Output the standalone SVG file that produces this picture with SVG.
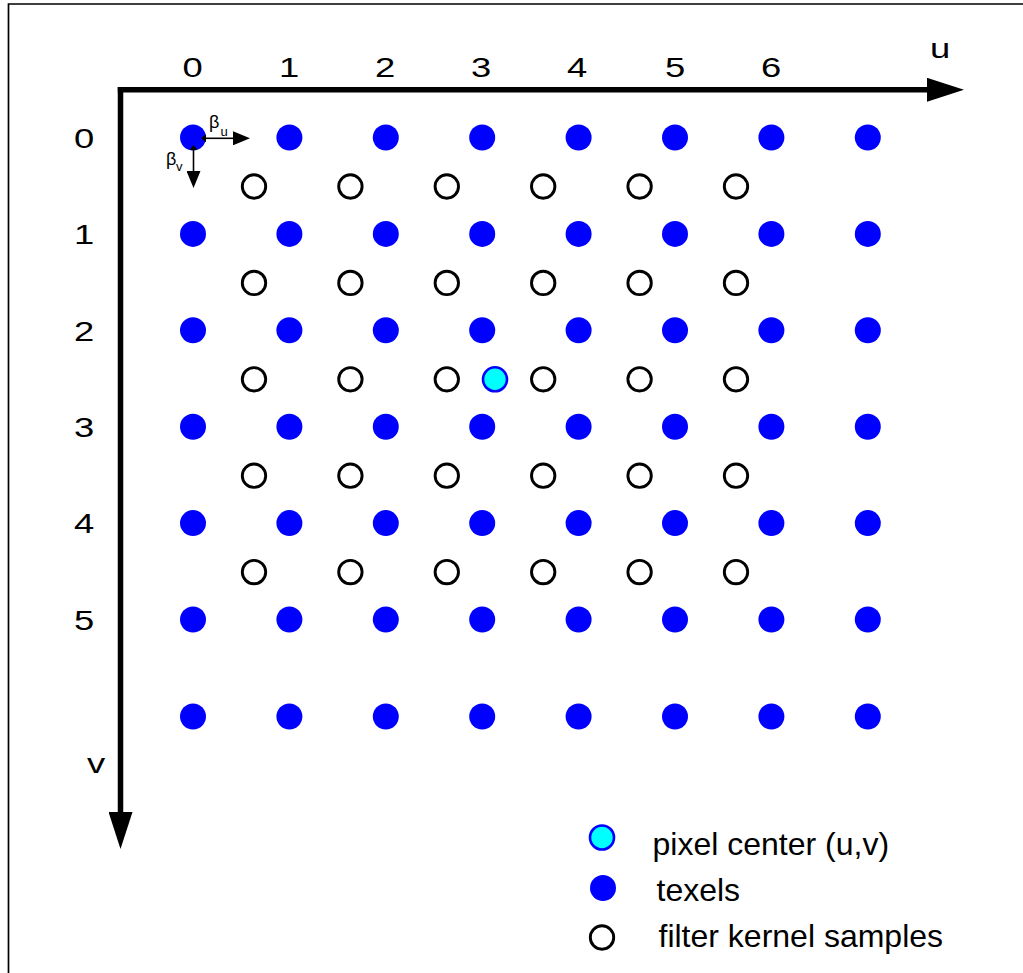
<svg xmlns="http://www.w3.org/2000/svg" width="1023" height="973" viewBox="0 0 1023 973">
<style>
.tx{fill:#0000FF;}
.ks{fill:#FFFFFF;stroke:#000000;stroke-width:2.9;}
.pc{fill:#00FFFF;stroke:#0000FF;stroke-width:2.6;}
.lab{font-family:"Liberation Sans",Arial,sans-serif;font-size:28px;fill:#000;text-anchor:middle;}
.leg{font-family:"Liberation Sans",Arial,sans-serif;font-size:32px;fill:#000;}
.beta{font-family:"Liberation Sans",Arial,sans-serif;fill:#000;}
.axis{stroke:#000;stroke-width:5.5;fill:none;}
.thin{stroke:#000;stroke-width:1.6;fill:none;}
</style>
<defs>
<marker id="bigArrow" viewBox="0 0 37 24" refX="0" refY="12" markerWidth="37" markerHeight="24" markerUnits="userSpaceOnUse" orient="auto">
<path d="M0,0 L37,12 L0,24 z" fill="#000"/>
</marker>
<marker id="smallArrow" viewBox="0 0 17 14" refX="0" refY="7" markerWidth="17" markerHeight="14" markerUnits="userSpaceOnUse" orient="auto">
<path d="M0,0 L17,7 L0,14 z" fill="#000"/>
</marker>
<marker id="smallTail" viewBox="0 0 5 8" refX="5" refY="4" markerWidth="5" markerHeight="8" markerUnits="userSpaceOnUse" orient="auto">
<path d="M5,0 L0,4 L5,8 z" fill="#000"/>
</marker>
<circle id="texel" r="13"/>
</defs>
<rect width="1023" height="973" fill="#FFFFFF"/>
<g id="frame">
<path d="M8.5,973 L8.5,4 L1023,4" stroke="#000" stroke-width="1.7" fill="none"/>
</g>
<g id="connectors">
<line class="axis" x1="117.8" y1="89.8" x2="927" y2="89.8" marker-end="url(#bigArrow)"/>
<line class="axis" x1="120.5" y1="87" x2="120.5" y2="812" marker-end="url(#bigArrow)"/>
</g>
<g id="axis-labels">
<text class="lab" transform="translate(940,58) scale(1.3,1)">u</text>
<text class="lab" transform="translate(96,773) scale(1.3,1)">v</text>
<text class="lab" transform="translate(192.5,77) scale(1.3,1)">0</text>
<text class="lab" transform="translate(289,77) scale(1.3,1)">1</text>
<text class="lab" transform="translate(385,77) scale(1.3,1)">2</text>
<text class="lab" transform="translate(481,77) scale(1.3,1)">3</text>
<text class="lab" transform="translate(577,77) scale(1.3,1)">4</text>
<text class="lab" transform="translate(675,77) scale(1.3,1)">5</text>
<text class="lab" transform="translate(771,77) scale(1.3,1)">6</text>
<text class="lab" transform="translate(84,147.5) scale(1.3,1)">0</text>
<text class="lab" transform="translate(84,244) scale(1.3,1)">1</text>
<text class="lab" transform="translate(84,340.5) scale(1.3,1)">2</text>
<text class="lab" transform="translate(84,436.5) scale(1.3,1)">3</text>
<text class="lab" transform="translate(84,533) scale(1.3,1)">4</text>
<text class="lab" transform="translate(84,629.5) scale(1.3,1)">5</text>
</g>
<g id="texels" class="tx">
<use href="#texel" x="193" y="137.5"/><use href="#texel" x="289.4" y="137.5"/><use href="#texel" x="385.8" y="137.5"/><use href="#texel" x="482.2" y="137.5"/><use href="#texel" x="578.6" y="137.5"/><use href="#texel" x="675" y="137.5"/><use href="#texel" x="771.4" y="137.5"/><use href="#texel" x="867.8" y="137.5"/>
<use href="#texel" x="193" y="233.9"/><use href="#texel" x="289.4" y="233.9"/><use href="#texel" x="385.8" y="233.9"/><use href="#texel" x="482.2" y="233.9"/><use href="#texel" x="578.6" y="233.9"/><use href="#texel" x="675" y="233.9"/><use href="#texel" x="771.4" y="233.9"/><use href="#texel" x="867.8" y="233.9"/>
<use href="#texel" x="193" y="330.3"/><use href="#texel" x="289.4" y="330.3"/><use href="#texel" x="385.8" y="330.3"/><use href="#texel" x="482.2" y="330.3"/><use href="#texel" x="578.6" y="330.3"/><use href="#texel" x="675" y="330.3"/><use href="#texel" x="771.4" y="330.3"/><use href="#texel" x="867.8" y="330.3"/>
<use href="#texel" x="193" y="426.7"/><use href="#texel" x="289.4" y="426.7"/><use href="#texel" x="385.8" y="426.7"/><use href="#texel" x="482.2" y="426.7"/><use href="#texel" x="578.6" y="426.7"/><use href="#texel" x="675" y="426.7"/><use href="#texel" x="771.4" y="426.7"/><use href="#texel" x="867.8" y="426.7"/>
<use href="#texel" x="193" y="523.1"/><use href="#texel" x="289.4" y="523.1"/><use href="#texel" x="385.8" y="523.1"/><use href="#texel" x="482.2" y="523.1"/><use href="#texel" x="578.6" y="523.1"/><use href="#texel" x="675" y="523.1"/><use href="#texel" x="771.4" y="523.1"/><use href="#texel" x="867.8" y="523.1"/>
<use href="#texel" x="193" y="619.5"/><use href="#texel" x="289.4" y="619.5"/><use href="#texel" x="385.8" y="619.5"/><use href="#texel" x="482.2" y="619.5"/><use href="#texel" x="578.6" y="619.5"/><use href="#texel" x="675" y="619.5"/><use href="#texel" x="771.4" y="619.5"/><use href="#texel" x="867.8" y="619.5"/>
<use href="#texel" x="193" y="716.5"/><use href="#texel" x="289.4" y="716.5"/><use href="#texel" x="385.8" y="716.5"/><use href="#texel" x="482.2" y="716.5"/><use href="#texel" x="578.6" y="716.5"/><use href="#texel" x="675" y="716.5"/><use href="#texel" x="771.4" y="716.5"/><use href="#texel" x="867.8" y="716.5"/>
</g>
<g id="kernel-samples">
<circle class="ks" cx="254" cy="186.5" r="11.7"/><circle class="ks" cx="350.4" cy="186.5" r="11.7"/><circle class="ks" cx="446.8" cy="186.5" r="11.7"/><circle class="ks" cx="543.2" cy="186.5" r="11.7"/><circle class="ks" cx="639.6" cy="186.5" r="11.7"/><circle class="ks" cx="736" cy="186.5" r="11.7"/>
<circle class="ks" cx="254" cy="282.9" r="11.7"/><circle class="ks" cx="350.4" cy="282.9" r="11.7"/><circle class="ks" cx="446.8" cy="282.9" r="11.7"/><circle class="ks" cx="543.2" cy="282.9" r="11.7"/><circle class="ks" cx="639.6" cy="282.9" r="11.7"/><circle class="ks" cx="736" cy="282.9" r="11.7"/>
<circle class="ks" cx="254" cy="379.3" r="11.7"/><circle class="ks" cx="350.4" cy="379.3" r="11.7"/><circle class="ks" cx="446.8" cy="379.3" r="11.7"/><circle class="ks" cx="543.2" cy="379.3" r="11.7"/><circle class="ks" cx="639.6" cy="379.3" r="11.7"/><circle class="ks" cx="736" cy="379.3" r="11.7"/>
<circle class="ks" cx="254" cy="475.7" r="11.7"/><circle class="ks" cx="350.4" cy="475.7" r="11.7"/><circle class="ks" cx="446.8" cy="475.7" r="11.7"/><circle class="ks" cx="543.2" cy="475.7" r="11.7"/><circle class="ks" cx="639.6" cy="475.7" r="11.7"/><circle class="ks" cx="736" cy="475.7" r="11.7"/>
<circle class="ks" cx="254" cy="572.1" r="11.7"/><circle class="ks" cx="350.4" cy="572.1" r="11.7"/><circle class="ks" cx="446.8" cy="572.1" r="11.7"/><circle class="ks" cx="543.2" cy="572.1" r="11.7"/><circle class="ks" cx="639.6" cy="572.1" r="11.7"/><circle class="ks" cx="736" cy="572.1" r="11.7"/>
</g>
<g id="pixel-center">
<circle class="pc" cx="495" cy="379.3" r="12"/>
</g>
<g id="beta-arrows">
<line class="thin" x1="206" y1="138.3" x2="233" y2="138.3" marker-start="url(#smallTail)" marker-end="url(#smallArrow)"/>
<line class="thin" x1="193.5" y1="150" x2="193.5" y2="171" marker-start="url(#smallTail)" marker-end="url(#smallArrow)"/>
<text class="beta" x="209" y="128" font-size="18">β</text>
<text class="beta" x="220.5" y="135.5" font-size="13">u</text>
<text class="beta" x="166" y="165" font-size="18">β</text>
<text class="beta" x="176" y="171" font-size="13">v</text>
</g>
<g id="legend">
<circle class="pc" cx="602" cy="837.5" r="12"/>
<circle class="tx" cx="603" cy="888" r="13"/>
<circle class="ks" cx="602" cy="937.5" r="11.7"/>
<text class="leg" x="652.5" y="855">pixel center (u,v)</text>
<text class="leg" x="656.5" y="901">texels</text>
<text class="leg" x="658.5" y="946.5">filter kernel samples</text>
</g>
</svg>
